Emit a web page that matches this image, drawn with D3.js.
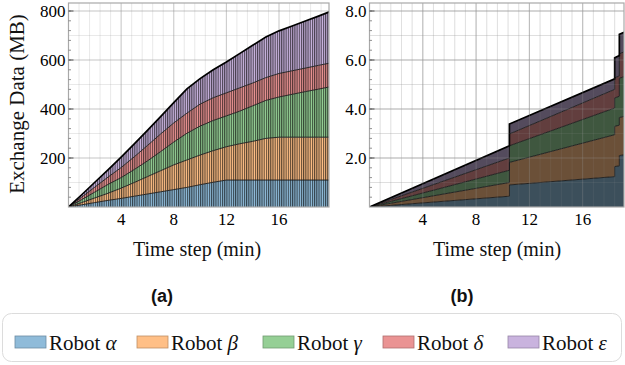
<!DOCTYPE html>
<html>
<head>
<meta charset="utf-8">
<script src="https://cdn.jsdelivr.net/npm/d3@7"></script>
<style>
  html, body { margin: 0; padding: 0; background: #fff; }
  svg { display: block; }
</style>
</head>
<body>
<svg id="fig" width="625" height="365"></svg>
<script>
// ---------- data ----------
const robotLetters = ["α", "β", "γ", "δ", "ε"];
const seriesKeys = ["alpha", "beta", "gamma", "delta", "epsilon"];
const seriesColors = ["#8fbbd9", "#ffbf86", "#95cf95", "#ea9393", "#c9b3de"];

// (a) exchanged data per robot (MB), sampled each minute
const timeA = [0, 1, 2, 3, 4, 5, 6, 7, 8, 9, 10, 11, 12, 13, 14, 15, 16, 17, 18, 19, 20];
const alphaA   = [0, 9, 18, 27, 35, 44, 53, 62, 71, 80, 91, 101, 110, 110, 110, 110, 110, 110, 110, 110, 110];
const betaA    = [0, 9, 19, 29, 42, 56, 71, 86, 101, 112, 121, 129, 136, 148, 158, 170, 175, 175, 175, 175, 175];
const gammaA   = [0, 12, 24, 36, 43, 53, 64, 78, 93, 109, 118, 123, 126, 133, 145, 155, 164, 175, 186, 196, 207];
const deltaA   = [0, 10, 20, 30, 41, 52, 63, 72, 78, 82, 90, 93, 94, 95, 93, 93, 96, 96, 96, 97, 97];
const epsilonA = [0, 10, 20, 30, 43, 53, 62, 71, 83, 99, 104, 114, 126, 140, 154, 166, 174, 183, 192, 201, 211];

// (b) exchanged data per robot, with jumps (repeated times mark a jump)
const timeB = [0, 10.5, 10.5, 18.4, 18.4, 18.75, 18.75, 19.1];
const alphaB   = [0, 0.44, 0.90, 1.24, 1.65, 1.68, 2.10, 2.13];
const betaB    = [0, 0.56, 0.92, 1.71, 1.64, 1.66, 1.55, 1.57];
const gammaB   = [0, 0.50, 0.68, 1.09, 1.16, 1.18, 1.60, 1.62];
const deltaB   = [0, 0.50, 0.48, 0.76, 0.82, 0.83, 1.00, 1.01];
const epsilonB = [0, 0.50, 0.41, 0.43, 0.82, 0.83, 0.80, 0.80];

const ticksXA = [4, 8, 12, 16];
const ticksYA = [200, 400, 600, 800];
const ticksYB = [2, 4, 6, 8];

// ---------- helpers ----------
function rows(times, cols) {
  return times.map((t, i) => {
    const r = { t };
    seriesKeys.forEach((k, j) => { r[k] = cols[j][i]; });
    return r;
  });
}
const dataA = rows(timeA, [alphaA, betaA, gammaA, deltaA, epsilonA]);
const dataB = rows(timeB, [alphaB, betaB, gammaB, deltaB, epsilonB]);
const stack = d3.stack().keys(seriesKeys);

const svg = d3.select("#fig");
const defs = svg.append("defs");
const serif = "'Liberation Serif', 'Times New Roman', serif";

function panel(opt) {
  const { x, y, data, id, fillFor, gridOnTop, gridOpacity, xTicks, yTicks, yFmt, minorY, gridY, label, xLabelX } = opt;
  const [xl, xr] = x.range();
  const [yb, yt] = [207, 3];
  const g = svg.append("g");

  defs.append("clipPath").attr("id", "clip-" + id)
    .append("rect").attr("x", xl).attr("y", yt).attr("width", xr - xl).attr("height", yb - yt);

  function drawGrid(target, op) {
    const minorX = d3.range(0.8, x.domain()[1], 0.8);
    target.selectAll(".gx").data(minorX).join("line")
      .attr("x1", d => x(d)).attr("x2", d => x(d)).attr("y1", yt).attr("y2", yb)
      .attr("stroke", "#9a9a9a").attr("stroke-opacity", 0.22 * op).attr("stroke-width", 1);
    target.selectAll(".gy").data(gridY).join("line")
      .attr("x1", xl).attr("x2", xr).attr("y1", d => y(d)).attr("y2", d => y(d))
      .attr("stroke", "#9a9a9a").attr("stroke-opacity", 0.22 * op).attr("stroke-width", 1);
    target.selectAll(".mx").data(xTicks).join("line")
      .attr("x1", d => x(d)).attr("x2", d => x(d)).attr("y1", yt).attr("y2", yb)
      .attr("stroke", "#9a9a9a").attr("stroke-opacity", 0.4 * op);
    target.selectAll(".my").data(yTicks).join("line")
      .attr("x1", xl).attr("x2", xr).attr("y1", d => y(d)).attr("y2", d => y(d))
      .attr("stroke", "#9a9a9a").attr("stroke-opacity", 0.4 * op);
  }
  // grid under the areas, visible on the empty part of the panel
  drawGrid(g.append("g"), 1);

  const series = stack(data);
  const area = d3.area().x(d => x(d.data.t)).y0(d => y(d[0])).y1(d => y(d[1]));
  const line = d3.line().x(d => x(d.data.t)).y(d => y(d[1]));
  const plot = g.append("g").attr("clip-path", `url(#clip-${id})`);
  plot.selectAll("path.area").data(series).join("path")
    .attr("class", "area").attr("d", area).attr("fill", (d, i) => fillFor(i));

  // faint grid showing through the dark fills
  if (gridOnTop) {
    const over = g.append("g").attr("clip-path", `url(#clip-${id})`);
    drawGrid(over, gridOpacity);
  }

  plot.selectAll("path.edge").data(series).join("path")
    .attr("class", "edge").attr("d", line).attr("fill", "none")
    .attr("stroke", (d, i) => i === series.length - 1 ? "#000" : "#1a1a1a")
    .attr("stroke-width", (d, i) => i === series.length - 1 ? 1.7 : 0.9);

  // frame
  g.append("rect").attr("x", xl).attr("y", yt).attr("width", xr - xl).attr("height", yb - yt)
    .attr("fill", "none").attr("stroke", "#a8a8a8").attr("stroke-width", 1.2);

  // left ticks (inside)
  g.selectAll(".tm").data(minorY).join("line")
    .attr("x1", xl).attr("x2", xl + 2.5).attr("y1", d => y(d)).attr("y2", d => y(d))
    .attr("stroke", "#777").attr("stroke-width", 0.8);
  g.selectAll(".tM").data(yTicks).join("line")
    .attr("x1", xl).attr("x2", xl + 5).attr("y1", d => y(d)).attr("y2", d => y(d))
    .attr("stroke", "#555").attr("stroke-width", 1);

  // tick labels
  g.selectAll(".ly").data(yTicks).join("text")
    .attr("x", xl - 3).attr("y", d => y(d)).attr("dy", "0.35em")
    .attr("text-anchor", "end").attr("font-family", serif).attr("font-size", 17)
    .attr("fill", "#000").text(yFmt);
  g.selectAll(".lx").data(xTicks).join("text")
    .attr("x", d => x(d)).attr("y", 225)
    .attr("text-anchor", "middle").attr("font-family", serif).attr("font-size", 17)
    .attr("fill", "#000").text(d => d);

  g.append("text").attr("x", xLabelX).attr("y", 256).attr("text-anchor", "middle")
    .attr("font-family", serif).attr("font-size", 20).attr("fill", "#111").text("Time step (min)");
  g.append("text").attr("x", xLabelX - 35).attr("y", 302).attr("text-anchor", "middle")
    .attr("font-family", "'Liberation Sans', Arial, sans-serif").attr("font-weight", "bold")
    .attr("font-size", 18).attr("fill", "#111").text(label);
}

// ---------- panel (a): striped stacked area ----------
const xA = d3.scaleLinear().domain([0, 19.8]).range([68.5, 329]);
const yA = d3.scaleLinear().domain([0, 800]).range([207, 11]);
const stripe = xA(1 / 6) - xA(0);
seriesColors.forEach((c, i) => {
  const p = defs.append("pattern").attr("id", "stripe-" + i)
    .attr("patternUnits", "userSpaceOnUse").attr("x", xA(0)).attr("y", 0)
    .attr("width", stripe).attr("height", 10);
  p.append("rect").attr("width", stripe).attr("height", 10).attr("fill", c);
  p.append("rect").attr("width", stripe * 0.5).attr("height", 10)
    .attr("fill", d3.interpolateRgb(c, "#000")(0.64));
});
panel({
  id: "a", x: xA, y: yA, data: dataA,
  fillFor: i => `url(#stripe-${i})`, gridOnTop: false, gridOpacity: 0,
  xTicks: ticksXA, yTicks: ticksYA, yFmt: d => d,
  minorY: d3.range(40, 840, 40), gridY: d3.range(100, 840, 100),
  label: "(a)", xLabelX: 197
});

// ---------- panel (b): dark stacked area ----------
const xB = d3.scaleLinear().domain([0, 19.1]).range([369.5, 624]);
const yB = d3.scaleLinear().domain([0, 8]).range([207, 11]);
panel({
  id: "b", x: xB, y: yB, data: dataB,
  fillFor: i => d3.interpolateRgb(seriesColors[i], "#000")(0.58), gridOnTop: true, gridOpacity: 0.55,
  xTicks: ticksXA, yTicks: ticksYB, yFmt: d => d3.format(".1f")(d),
  minorY: d3.range(0.4, 8.4, 0.4), gridY: d3.range(1, 8.4, 1),
  label: "(b)", xLabelX: 497
});

// y axis title
svg.append("text")
  .attr("transform", "translate(24,104) rotate(-90)")
  .attr("text-anchor", "middle").attr("font-family", serif).attr("font-size", 21)
  .attr("fill", "#111").text("Exchange Data (MB)");

// ---------- legend ----------
const legend = svg.append("g");
legend.append("rect").attr("x", 2.5).attr("y", 313.5).attr("width", 619).attr("height", 48)
  .attr("rx", 9).attr("fill", "#fff").attr("stroke", "#dcdcdc").attr("stroke-width", 1);
const legendX = [15, 137, 263, 383, 508];
const items = legend.selectAll("g.item").data(seriesKeys).join("g")
  .attr("class", "item").attr("transform", (d, i) => `translate(${legendX[i]},0)`);
items.append("rect").attr("x", 0).attr("y", 336).attr("width", 31).attr("height", 12)
  .attr("fill", (d, i) => seriesColors[i])
  .attr("stroke", (d, i) => d3.interpolateRgb(seriesColors[i], "#000")(0.25)).attr("stroke-width", 0.8);
const lt = items.append("text").attr("x", 34).attr("y", 350)
  .attr("font-family", serif).attr("font-size", 21).attr("fill", "#111");
lt.append("tspan").text("Robot ");
lt.append("tspan").attr("font-style", "italic").text((d, i) => robotLetters[i]);
</script>
</body>
</html>
